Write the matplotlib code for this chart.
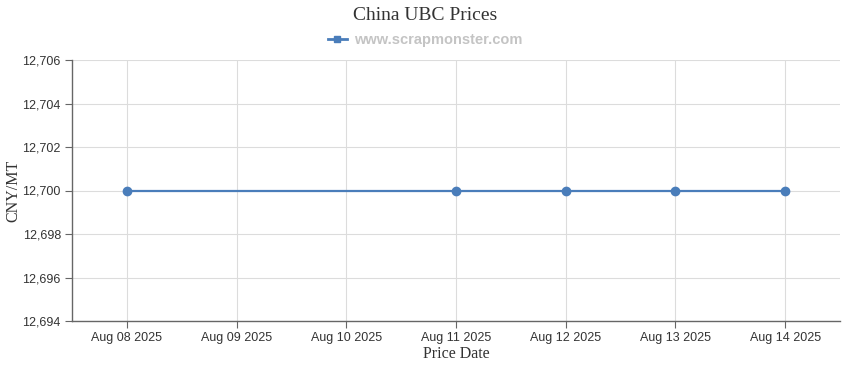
import matplotlib.pyplot as plt
import matplotlib.dates as mdates
from matplotlib.lines import Line2D
import pandas as pd

# Data
dates = ['2025-08-08', '2025-08-11', '2025-08-12', '2025-08-13', '2025-08-14']
prices = [12700, 12700, 12700, 12700, 12700]
tickDates = pd.date_range('2025-08-08', '2025-08-14', freq='D')
yTicks = [12694, 12696, 12698, 12700, 12702, 12704, 12706]

# Colors
lnColor = '#4a7dba'
grColor = '#dcdcdc'
axColor = '#666666'
txColor = '#333333'

x = pd.to_datetime(dates)

fig = plt.figure(figsize=(8.5, 3.7), dpi=100)
ax = fig.add_axes([72/850, 1-321/370, (840-72)/850, (321-60)/370])

ax.plot(x, prices, color=lnColor, lw=1.6, marker='o', ms=6, zorder=3)

ax.set_xlim(tickDates[0] - pd.Timedelta(hours=12), tickDates[-1] + pd.Timedelta(hours=12))
ax.set_ylim(12694, 12706)
ax.set_xticks(tickDates)
ax.xaxis.set_major_formatter(mdates.DateFormatter('%b %d %Y'))
ax.set_yticks(yTicks)
ax.set_yticklabels(['{:,}'.format(v) for v in yTicks])

ax.grid(True, color=grColor, lw=0.8, zorder=0)
ax.set_axisbelow(True)
for s in ['top', 'right']:
    ax.spines[s].set_visible(False)
for s in ['left', 'bottom']:
    ax.spines[s].set_color(axColor)
    ax.spines[s].set_linewidth(1.0)
ax.tick_params(colors=axColor, length=5, width=0.8, labelcolor=txColor,
               labelsize=9, pad=3)
for lbl in ax.get_xticklabels() + ax.get_yticklabels():
    lbl.set_family('Liberation Sans')

ax.set_xlabel('Price Date', family='Liberation Serif', fontsize=11.5,
              color=txColor, labelpad=1)
ax.set_ylabel('CNY/MT', family='Liberation Serif', fontsize=11.5,
              color=txColor, labelpad=1)

fig.text(0.5, 1-15/370, 'China UBC Prices', ha='center', va='center',
         family='Liberation Serif', fontsize=14, color=txColor)

handle = Line2D([], [], color=lnColor, lw=2, marker='s', ms=4.5)
fig.legend([handle], ['www.scrapmonster.com'], loc='center',
           bbox_to_anchor=(0.5, 1-40/370), frameon=False, handlelength=1.3,
           handletextpad=0.5, prop={'family': 'Liberation Sans', 'size': 10.5,
                                    'weight': 'bold'}, labelcolor='#c4c4c4')

fig.savefig('out.png', dpi=100, facecolor='white')
plt.close('all')
